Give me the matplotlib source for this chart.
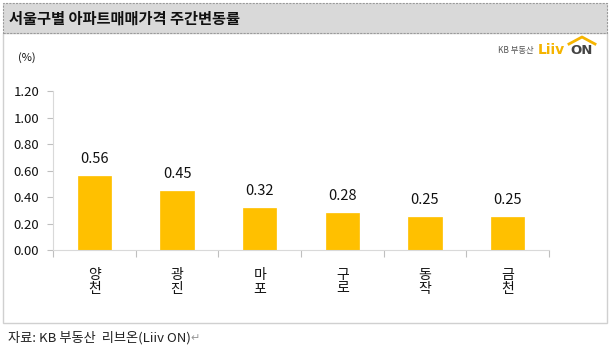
import matplotlib
matplotlib.use("Agg")
import matplotlib.pyplot as plt
from matplotlib.patches import Rectangle
from matplotlib.lines import Line2D

plt.rcParams['font.family'] = ['Noto Sans CJK KR', 'DejaVu Sans']

categories = ["양천", "광진", "마포", "구로", "동작", "금천"]
values = [0.56, 0.45, 0.32, 0.28, 0.25, 0.25]
yticks = [0.0, 0.2, 0.4, 0.6, 0.8, 1.0, 1.2]
title = "서울구별 아파트매매가격 주간변동률"
unit = "(%)"
source = "자료: KB 부동산  리브온(Liiv ON)"

W, H = 610, 352
fig = plt.figure(figsize=(W / 100, H / 100), dpi=100)
fig.patch.set_facecolor("white")

def fx(x):
    return x / W

def fy(y):
    return 1 - y / H

# outer box
fig.add_artist(Rectangle((fx(2.5), fy(323)), fx(604), (323 - 33) / H, transform=fig.transFigure,
                         facecolor="none", edgecolor="#D0D0D0", linewidth=1))
# title bar
fig.add_artist(Rectangle((fx(2.5), fy(33)), fx(604), 30 / H, transform=fig.transFigure,
                         facecolor="#D9D9D9", edgecolor="#9A9A9A", linewidth=0.8, linestyle=(0, (2, 1))))
fig.text(fx(9), fy(18.5), title, fontsize=11, fontweight="bold", color="#111111",
         ha="left", va="center")

# axes
left, right = 53, 549
bottom, top = 250, 91.4
ax = fig.add_axes([fx(left), fy(bottom), (right - left) / W, (bottom - top) / H])
x = list(range(len(categories)))
ax.bar(x, values, width=0.4, color="#FFC000", edgecolor="#FFC000", linewidth=0.5, zorder=2)
ax.set_xlim(-0.5, len(categories) - 0.5)
ax.set_ylim(0, 1.2)
ax.set_yticks(yticks)
ax.set_yticklabels([f"{v:.2f}" for v in yticks], fontsize=9.5, color="#111111")
ax.tick_params(axis="y", length=4, color="#BFBFBF", width=0.8, pad=6)
ax.set_xticks([i + 0.5 for i in range(-1, len(categories))], minor=False)
ax.set_xticklabels([])
ax.tick_params(axis="x", length=5, color="#BFBFBF", width=0.8, direction="out")
ax.set_xticks(x, minor=True)
ax.set_xticklabels(["\n".join(c) for c in categories], minor=True, fontsize=10,
                   color="#111111", linespacing=0.95)
ax.tick_params(axis="x", which="minor", length=0, pad=13)
for s in ["top", "right"]:
    ax.spines[s].set_visible(False)
ax.spines["left"].set_color("#D9D9D9")
ax.spines["bottom"].set_color("#D9D9D9")
ax.spines["left"].set_linewidth(0.8)
ax.spines["bottom"].set_linewidth(0.8)
ax.set_facecolor("none")

for xi, v in zip(x, values):
    ax.annotate(f"{v:.2f}", (xi, v), xytext=(0, 7), textcoords="offset points",
                ha="center", va="bottom", fontsize=10.5, color="#111111")

fig.text(fx(18), fy(58), unit, fontsize=8, color="#111111", ha="left", va="center")

# logo
fig.text(fx(534), fy(50), "KB 부동산", fontsize=6, color="#555555", ha="right", va="center")
fig.text(fx(538), fy(50), "Liiv", fontsize=10, fontweight="heavy", color="#F5B400",
         ha="left", va="center", family="DejaVu Sans")
fig.text(fx(570), fy(51), "ON", fontsize=9.5, fontweight="bold", color="#444444",
         ha="left", va="center", family="DejaVu Sans")
fig.add_artist(Line2D([fx(569), fx(582), fx(595)], [fy(44), fy(37), fy(44)],
                      transform=fig.transFigure, color="#F5B400", linewidth=2))

# source
t = fig.text(fx(8), fy(338), source, fontsize=9.5, color="#222222", ha="left", va="center")
fig.text(fx(190), fy(338), "↵", fontsize=8, color="#999999", ha="left", va="center",
         family=["DejaVu Sans"])

fig.savefig("out.png", dpi=100, facecolor="white")
